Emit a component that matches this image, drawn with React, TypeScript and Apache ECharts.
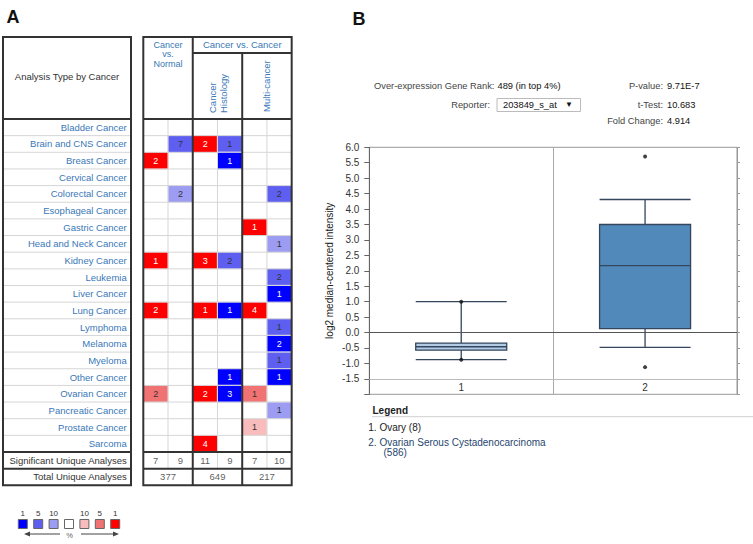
import React, { useEffect, useRef } from 'react';
import * as echarts from 'echarts';

// ---------- Panel A data ----------
const cancers = [
  'Bladder Cancer', 'Brain and CNS Cancer', 'Breast Cancer', 'Cervical Cancer',
  'Colorectal Cancer', 'Esophageal Cancer', 'Gastric Cancer', 'Head and Neck Cancer',
  'Kidney Cancer', 'Leukemia', 'Liver Cancer', 'Lung Cancer', 'Lymphoma', 'Melanoma',
  'Myeloma', 'Other Cancer', 'Ovarian Cancer', 'Pancreatic Cancer', 'Prostate Cancer', 'Sarcoma',
];
const summaryRows = ['Significant Unique Analyses', 'Total Unique Analyses'];
const analysisColumns = ['CvN up', 'CvN down', 'Histology up', 'Histology down', 'Multi up', 'Multi down'];
// [column, row, level (+ over / - under; 1 = top 1%, 2 = top 5%, 3 = top 10%), count]
const cells: [number, number, number, number][] = [
  [1, 1, -2, 7], [2, 1, 1, 2], [3, 1, -2, 1],
  [0, 2, 1, 2], [3, 2, -1, 1],
  [1, 4, -3, 2], [5, 4, -2, 2],
  [4, 6, 1, 1],
  [5, 7, -3, 1],
  [0, 8, 1, 1], [2, 8, 1, 3], [3, 8, -2, 2],
  [5, 9, -2, 2],
  [5, 10, -1, 1],
  [0, 11, 1, 2], [2, 11, 1, 1], [3, 11, -1, 1], [4, 11, 1, 4],
  [5, 12, -2, 1],
  [5, 13, -1, 2],
  [5, 14, -2, 1],
  [3, 15, -1, 1], [5, 15, -1, 1],
  [0, 16, 2, 2], [2, 16, 1, 2], [3, 16, -1, 3], [4, 16, 2, 1],
  [5, 17, -3, 1],
  [4, 18, 3, 1],
  [2, 19, 1, 4],
];
const significant = [7, 9, 11, 9, 7, 10];
const totals = [377, 649, 217];
const levelColors: Record<string, string> = {
  '1': '#ff0000', '2': '#f07272', '3': '#f8bcbc',
  '-1': '#0000ff', '-2': '#5e5ef0', '-3': '#9c9cf2',
};
const keyLevels = [-1, -2, -3, 0, 3, 2, 1];
const keyLabels = ['1', '5', '10', '', '10', '5', '1'];

// ---------- Panel B data ----------
const boxCategories = ['1', '2'];
// [min, Q1, median, Q3, max]
const boxStats = [
  [-0.88, -0.57, -0.46, -0.34, 1.0],
  [-0.48, 0.13, 2.17, 3.5, 4.31],
];
const boxFills = ['#b3cce6', '#5289bb'];
const outlierPoints = [[0, 1.0], [0, -0.88], [1, 5.7], [1, -1.12]];
const yMin = -2;
const yMax = 6;
const yStep = 0.5;

const FONT = '"Liberation Sans", Arial, sans-serif';
const BLUE = '#3a78b8';

// table layout
const TL = 143.3, CW = 24.73, TT = 119, RH = 16.65, NR = 22;
const LB = 3, RB = 131, HT = 37;
const TB = TT + NR * RH;
const TR = TL + 6 * CW;

function txt(text: string, x: number, y: number, o: any = {}) {
  return {
    type: 'text', z: 120, x, y, rotation: o.rotation || 0,
    style: {
      text, x: 0, y: 0,
      fill: o.fill || '#333',
      fontSize: o.size || 9.5,
      fontFamily: FONT,
      fontWeight: o.weight || 'normal',
      align: o.align || 'left', textAlign: o.align || 'left',
      verticalAlign: o.va || 'middle', textVerticalAlign: o.va || 'middle',
      lineHeight: o.lh,
    },
  };
}
function ln(x1: number, y1: number, x2: number, y2: number, stroke: string, w: number, z = 100) {
  return { type: 'line', z, shape: { x1, y1, x2, y2 }, style: { stroke, lineWidth: w } };
}

function buildGraphic() {
  const g: any[] = [];
  const light = '#d6d6d6';
  const dark = '#333';
  for (let r = 1; r < NR; r++) {
    const y = TT + r * RH;
    if (r === 20 || r === 21) continue;
    g.push(ln(LB, y, RB, y, light, 1, 50));
    g.push(ln(TL, y, TR, y, light, 1, 50));
  }
  [1, 3, 5].forEach((c) => g.push(ln(TL + c * CW, TT, TL + c * CW, TT + 21 * RH, light, 1, 50)));
  g.push({ type: 'rect', z: 100, shape: { x: LB, y: HT, width: RB - LB, height: TB - HT }, style: { fill: 'none', stroke: dark, lineWidth: 2 } });
  g.push({ type: 'rect', z: 100, shape: { x: TL, y: HT, width: TR - TL, height: TB - HT }, style: { fill: 'none', stroke: dark, lineWidth: 2 } });
  g.push(ln(TL + 2 * CW, HT, TL + 2 * CW, TB, dark, 2));
  g.push(ln(TL + 4 * CW, 53, TL + 4 * CW, TB, dark, 2));
  g.push(ln(TL + 2 * CW, 53, TR, 53, dark, 2));
  [TT, TT + 20 * RH, TT + 21 * RH].forEach((y) => {
    g.push(ln(LB, y, RB, y, dark, 2));
    g.push(ln(TL, y, TR, y, dark, 2));
  });
  g.push(txt('Analysis Type by Cancer', (LB + RB) / 2, 76, { align: 'center', fill: '#333' }));
  g.push(txt('Cancer', TL + CW, 44.5, { align: 'center', fill: BLUE, size: 9 }));
  g.push(txt('vs.', TL + CW, 54, { align: 'center', fill: BLUE, size: 9 }));
  g.push(txt('Normal', TL + CW, 63.5, { align: 'center', fill: BLUE, size: 9 }));
  g.push(txt('Cancer vs. Cancer', TL + 4 * CW, 44.5, { align: 'center', fill: BLUE }));
  g.push(txt('Cancer\nHistology', TL + 3 * CW + 1, 113, { rotation: Math.PI / 2, fill: BLUE, lh: 11 }));
  g.push(txt('Multi-cancer', TL + 5 * CW, 112, { rotation: Math.PI / 2, fill: BLUE }));
  g.push(txt('A', 6.5, 16.5, { size: 18, weight: 'bold', fill: '#111' }));
  g.push(txt('B', 352.5, 18.5, { size: 18, weight: 'bold', fill: '#111' }));
  keyLevels.forEach((lv, i) => {
    const x = 18.3 + i * 15.4;
    g.push({ type: 'rect', z: 100, shape: { x, y: 519.5, width: 9, height: 9 }, style: { fill: lv === 0 ? '#fff' : levelColors[String(lv)], stroke: '#666', lineWidth: 1 } });
    if (keyLabels[i]) g.push(txt(keyLabels[i], x + 4.5, 513.5, { align: 'center', size: 8, fill: '#333' }));
  });
  g.push(ln(27, 534, 60, 534, '#444', 1));
  g.push({ type: 'polygon', z: 100, shape: { points: [[24, 534], [30, 531.5], [30, 536.5]] }, style: { fill: '#444' } });
  g.push(ln(81, 534, 115, 534, '#444', 1));
  g.push({ type: 'polygon', z: 100, shape: { points: [[119, 534], [113, 531.5], [113, 536.5]] }, style: { fill: '#444' } });
  g.push(txt('%', 69.5, 535, { align: 'center', size: 7.5, fill: '#666' }));

  g.push(txt('Over-expression Gene Rank:', 374, 86, { size: 9.3, fill: '#444' }));
  g.push(txt('489 (in top 4%)', 497.5, 86, { size: 9.3, fill: '#111' }));
  g.push(txt('Reporter:', 490, 104.5, { size: 9.3, fill: '#444', align: 'right' }));
  g.push({ type: 'rect', z: 100, shape: { x: 497, y: 98.5, width: 83.5, height: 13 }, style: { fill: '#fff', stroke: '#bbb', lineWidth: 1 } });
  g.push(txt('203849_s_at', 503, 105, { size: 9.3, fill: '#111' }));
  g.push(txt('\u25BC', 569, 104.5, { size: 8, fill: '#111', align: 'center' }));
  g.push(txt('P-value:', 663, 86, { size: 9.3, fill: '#444', align: 'right' }));
  g.push(txt('9.71E-7', 667, 86, { size: 9.3, fill: '#111' }));
  g.push(txt('t-Test:', 663, 104.5, { size: 9.3, fill: '#444', align: 'right' }));
  g.push(txt('10.683', 667, 104.5, { size: 9.3, fill: '#111' }));
  g.push(txt('Fold Change:', 663, 120.5, { size: 9.3, fill: '#444', align: 'right' }));
  g.push(txt('4.914', 667, 120.5, { size: 9.3, fill: '#111' }));
  g.push(txt('Legend', 372.5, 410, { size: 10, weight: 'bold', fill: '#222' }));
  g.push(ln(372, 416.7, 753, 416.7, '#d0d0d0', 1));
  g.push(txt('1. Ovary (8)', 368.3, 427.5, { size: 10, fill: '#222' }));
  g.push(txt('2. Ovarian Serous Cystadenocarcinoma', 368.3, 442.7, { size: 10, fill: '#27466e' }));
  g.push(txt('(586)', 383.5, 452.7, { size: 10, fill: '#27466e' }));
  return g;
}

export default function App() {
  const ref = useRef<HTMLDivElement>(null);
  useEffect(() => {
    document.body.style.margin = '0';
    const chart = echarts.init(ref.current!, null, { renderer: 'svg' });
    const yCats = [...cancers, ...summaryRows];
    const heatData = cells.map(([c, r, lv, n]) => ({
      value: [c, r, lv, n],
      label: { color: Math.abs(lv) === 1 ? '#ffffff' : '#333333' },
    }));
    const sigData = significant.map((v, i) => [i + 0.5, summaryRows[0], v]);
    const totData = totals.map((v, i) => [2 * i + 1, summaryRows[1], v]);
    const pieces = Object.keys(levelColors).map((k) => ({ value: Number(k), color: levelColors[k] }));

    chart.setOption({
      animation: false,
      backgroundColor: '#ffffff',
      textStyle: { fontFamily: FONT },
      grid: [
        { left: TL, top: TT, width: TR - TL, height: TB - TT, containLabel: false },
        { left: 369.3, right: 16, top: 147.3, height: 247, show: true, borderColor: '#999', borderWidth: 1, backgroundColor: '#fff' },
      ],
      visualMap: {
        type: 'piecewise', show: false, seriesIndex: 0, dimension: 2, pieces,
      },
      xAxis: [
        { type: 'category', gridIndex: 0, data: analysisColumns, show: false },
        { type: 'value', gridIndex: 0, min: 0, max: 6, show: false },
        {
          type: 'category', gridIndex: 1, data: boxCategories,
          axisLine: { show: false }, axisTick: { show: false },
          axisLabel: { inside: true, margin: 2, fontSize: 10, color: '#333', fontFamily: FONT },
          splitLine: { show: true, lineStyle: { color: '#aaa', width: 1 } },
        },
      ],
      yAxis: [
        {
          type: 'category', gridIndex: 0, data: yCats, inverse: true,
          axisLine: { show: false }, axisTick: { show: false }, splitLine: { show: false },
          axisLabel: {
            margin: TL - 126.7, fontSize: 9.5, fontFamily: FONT,
            color: (v: string) => (summaryRows.indexOf(v) >= 0 ? '#333' : BLUE),
          },
        },
        {
          type: 'value', gridIndex: 1, min: yMin, max: yMax, interval: yStep,
          name: 'log2 median-centered intensity', nameLocation: 'middle', nameGap: 35,
          nameTextStyle: { fontSize: 10, color: '#222', fontFamily: FONT },
          axisLine: { show: true, lineStyle: { color: '#666' } },
          axisTick: { show: true, length: 5, lineStyle: { color: '#666' } },
          axisLabel: {
            margin: 10, fontSize: 10, color: '#333', fontFamily: FONT,
            formatter: (v: number) => (v <= yMin ? '' : v.toFixed(1)),
          },
          splitLine: { show: false },
        },
        {
          type: 'value', gridIndex: 1, min: yMin, max: yMax, interval: yStep, position: 'right',
          axisLine: { show: true, lineStyle: { color: '#999' } },
          axisTick: { show: true, length: 3, lineStyle: { color: '#999' } },
          axisLabel: { show: false }, splitLine: { show: false },
        },
      ],
      series: [
        {
          type: 'heatmap', xAxisIndex: 0, yAxisIndex: 0, data: heatData,
          itemStyle: { borderColor: '#ffffff', borderWidth: 0.5 },
          label: {
            show: true, fontSize: 9, fontFamily: FONT,
            formatter: (p: any) => String(p.value[3]),
          },
          emphasis: { disabled: true },
        },
        {
          type: 'scatter', xAxisIndex: 1, yAxisIndex: 0, data: [...sigData, ...totData],
          symbolSize: 2, itemStyle: { color: 'rgba(255,255,255,0)' },
          label: {
            show: true, position: 'inside', fontSize: 9.5, color: '#333', fontFamily: FONT,
            formatter: (p: any) => String(p.value[2]),
          },
          z: 10,
          silent: true,
        },
        {
          type: 'boxplot', xAxisIndex: 2, yAxisIndex: 1,
          boxWidth: [91, 91],
          data: boxStats.map((s, i) => ({
            value: s,
            itemStyle: { color: boxFills[i], borderColor: '#34465c', borderWidth: 1.3 },
          })),
          markLine: {
            silent: true, symbol: ['none', 'none'], label: { show: false },
            data: [
              { yAxis: 0, lineStyle: { color: '#555', width: 1.2, type: 'solid' } },
              { yAxis: -1.5, lineStyle: { color: '#bbb', width: 1, type: 'solid' } },
            ],
          },
          z: 3,
        },
        {
          type: 'scatter', xAxisIndex: 2, yAxisIndex: 1, data: outlierPoints,
          symbolSize: 4, itemStyle: { color: '#111' }, z: 5,
        },
      ],
      graphic: buildGraphic(),
    });
    return () => chart.dispose();
  }, []);
  return <div ref={ref} style={{ width: 753, height: 544 }} />;
}
